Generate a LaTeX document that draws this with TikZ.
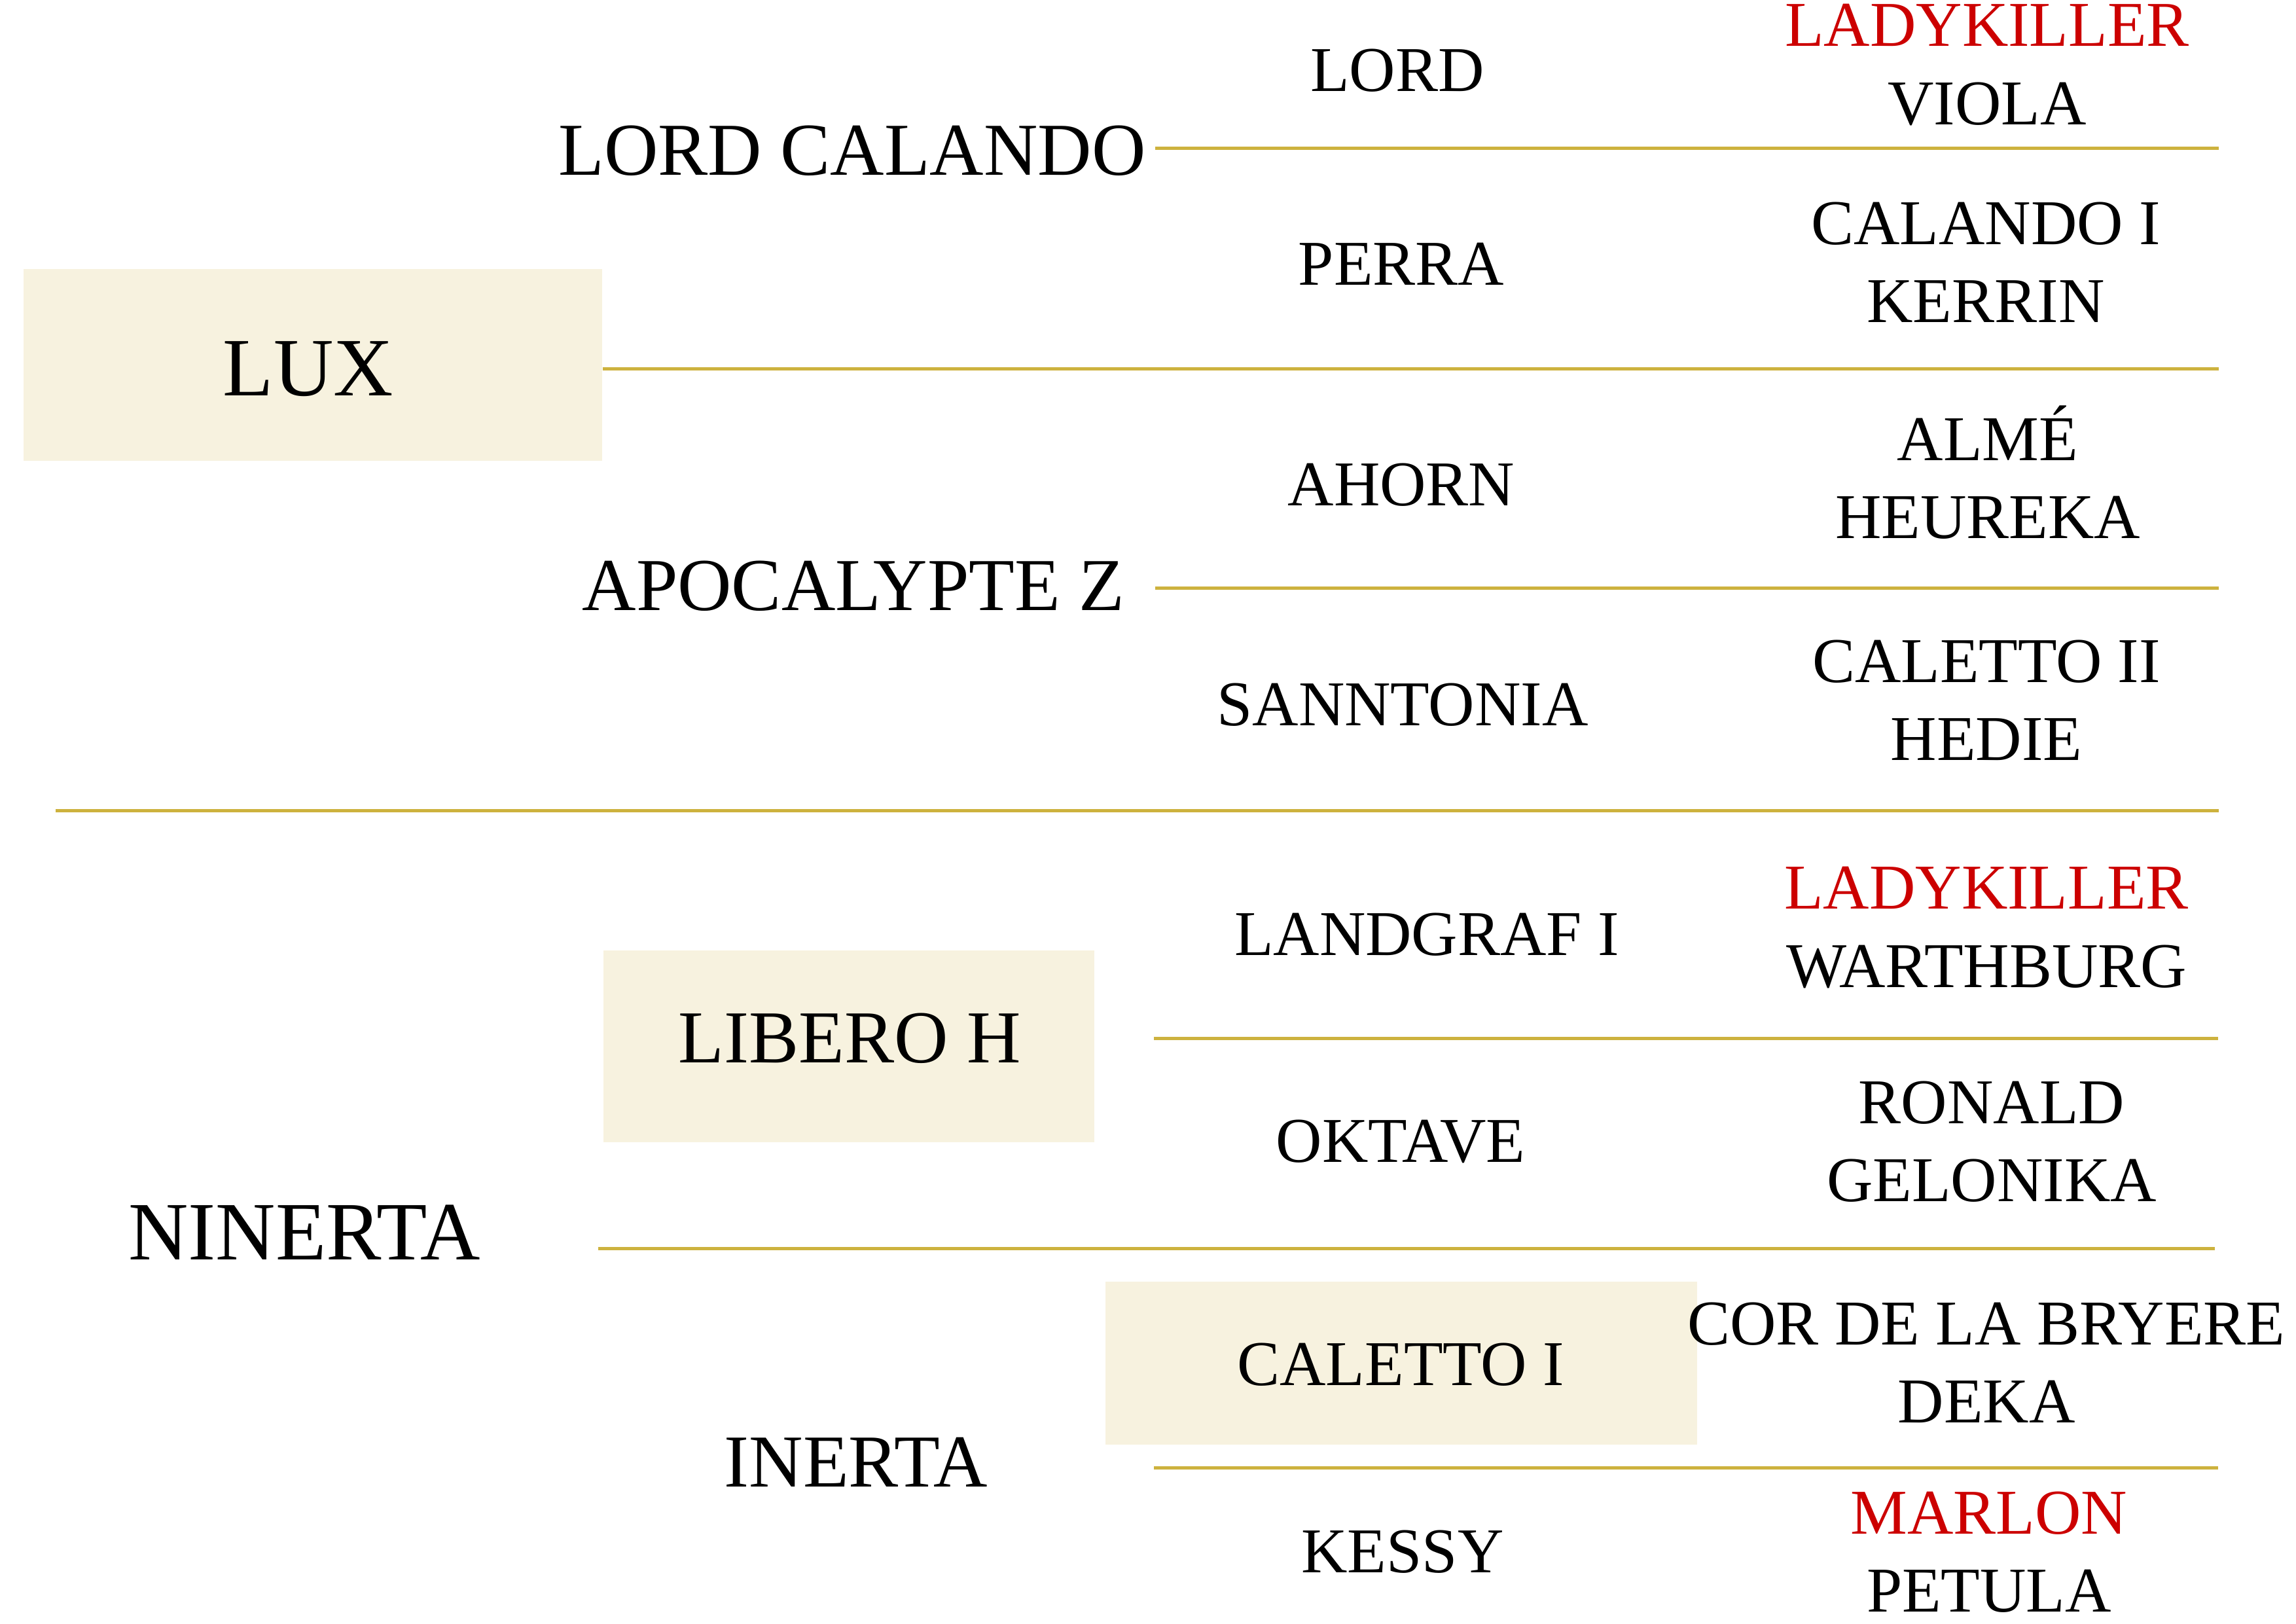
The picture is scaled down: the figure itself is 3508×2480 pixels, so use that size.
\documentclass[tikz,border=0pt]{standalone}
\usepackage{fontspec}
\setmainfont{Liberation Serif}
\usepackage{tikz}
\definecolor{gold}{RGB}{205,178,62}
\definecolor{cream}{RGB}{247,242,223}
\definecolor{redname}{RGB}{204,0,0}
\tikzset{
    gen1/.style={font=\fontsize{30.5}{36}\selectfont},
    gen2/.style={font=\fontsize{27.5}{33}\selectfont},
    gen3/.style={font=\fontsize{23.5}{28.7}\selectfont, align=center},
    hl/.style={fill=cream, inner sep=0pt},
    sep/.style={draw=gold, line width=1.2pt}
}
\newcommand{\parents}[4]{
    \node[gen3] (#1) at (#2) {#3\\#4};
}

\begin{document}
\begin{tikzpicture}[x=0.0084664cm, y=-0.0084664cm]
        \useasboundingbox (0,0) rectangle (3508,2480);
        % highlighted horses
        \node[hl, minimum width=7.484cm, minimum height=2.481cm] (luxbox) at (478,557) {};
        \node[hl, minimum width=6.35cm, minimum height=2.481cm] (liberobox) at (1297,1598) {};
        \node[hl, minimum width=7.654cm, minimum height=2.108cm] (calettobox) at (2141,2082) {};
        % sire side
        \node[gen1] (lux) at (471,564) {LUX};
        \node[gen2] (lordcalando) at (1302,230) {LORD CALANDO};
        \node[gen2] (apocalypte) at (1304,895) {APOCALYPTE Z};
        \node[gen3] (lord) at (2135,108) {LORD};
        \node[gen3] (perra) at (2141,403) {PERRA};
        \node[gen3] (ahorn) at (2141,741) {AHORN};
        \node[gen3] (sanntonia) at (2143,1077) {SANNTONIA};
        \parents{ladyviola}{3036,99}{\textcolor{redname}{LADYKILLER}}{VIOLA}
        \parents{calandokerrin}{3034,401}{CALANDO I}{KERRIN}
        \parents{almeheureka}{3037,722}{ALMÉ}{HEUREKA}
        \parents{calettohedie}{3035,1070}{CALETTO II}{HEDIE}
        % dam side
        \node[gen1] (ninerta) at (465,1883) {NINERTA};
        \node[gen2] (libero) at (1298,1586) {LIBERO H};
        \node[gen2] (inerta) at (1308,2234) {INERTA};
        \node[gen3] (landgraf) at (2180,1428) {LANDGRAF I};
        \node[gen3] (oktave) at (2140,1744) {OKTAVE};
        \node[gen3] (caletto) at (2140,2085) {CALETTO I};
        \node[gen3] (kessy) at (2143,2371) {KESSY};
        \parents{ladywarthburg}{3035,1417}{\textcolor{redname}{LADYKILLER}}{WARTHBURG}
        \parents{ronaldgelonika}{3043,1744}{RONALD}{GELONIKA}
        \parents{cordeka}{3035,2082}{COR DE LA BRYERE}{DEKA}
        \parents{marlonpetula}{3039,2371}{\textcolor{redname}{MARLON}}{PETULA}
        % rules
        \draw[sep] (1765,226) -- (3390,226);
        \draw[sep] (luxbox.east |- 0,563) -- (3390,563);
        \draw[sep] (1765,898) -- (3390,898);
        \draw[sep] (85,1238) -- (3390,1238);
        \draw[sep] (1763,1586) -- (3389,1586);
        \draw[sep] (914,1907) -- (3384,1907);
        \draw[sep] (1763,2242) -- (3389,2242);
    \end{tikzpicture}
\end{document}
